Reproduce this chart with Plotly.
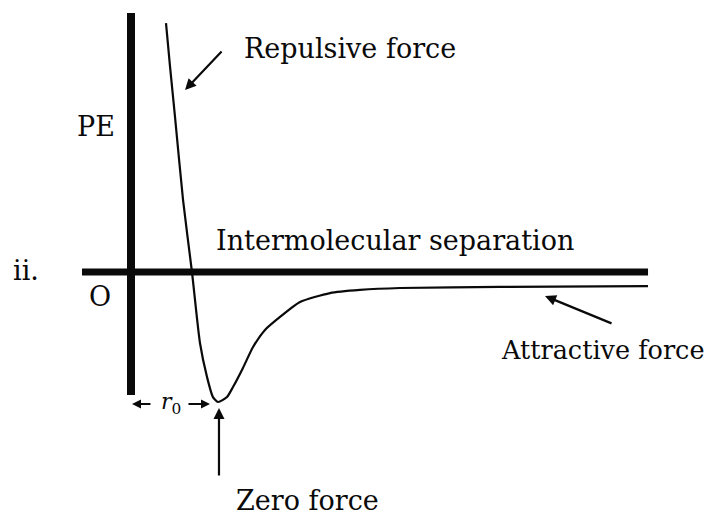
import plotly.graph_objects as go

# Potential-energy curve (x in units of r0, y in units of well depth)
r_sep = [0.407, 0.453, 0.512, 0.605, 0.709, 0.802, 0.884, 0.953, 1.012, 1.116,
         1.186, 1.302, 1.419, 1.558, 1.733, 1.965, 2.314, 2.663, 3.128, 4.291, 6.012]
pe = [1.915, 1.585, 1.192, 0.554, 0.0, -0.546, -0.808, -0.962, -1.0, -0.962,
      -0.885, -0.738, -0.577, -0.446, -0.346, -0.231, -0.162, -0.138, -0.123, -0.115, -0.108]

# Axis extents
x_axis_span = [-0.570, 6.012]
y_axis_span = [-0.946, 1.992]

labels = {
    "repulsive": "Repulsive force",
    "attractive": "Attractive force",
    "zero": "Zero force",
    "sep": "Intermolecular separation",
    "pe": "PE",
    "origin": "O",
    "part": "ii.",
}

FONT = "DejaVu Serif"
INK = "#0a0a0a"

fig = go.Figure()

# Axes
fig.add_trace(go.Scatter(x=x_axis_span, y=[0, 0], mode="lines",
                         line=dict(color=INK, width=7), hoverinfo="skip"))
fig.add_trace(go.Scatter(x=[0, 0], y=y_axis_span, mode="lines",
                         line=dict(color=INK, width=8), hoverinfo="skip"))
# Curve
fig.add_trace(go.Scatter(x=r_sep, y=pe, mode="lines",
                         line=dict(color=INK, width=2.2, shape="spline", smoothing=0.6),
                         hoverinfo="skip"))

def arrow(hx, hy, tx, ty, w=2.2, size=1.0):
    fig.add_annotation(x=hx, y=hy, ax=tx, ay=ty, xref="x", yref="y",
                       axref="x", ayref="y", text="", showarrow=True,
                       arrowhead=2, arrowsize=size, arrowwidth=w, arrowcolor=INK)

arrow(0.628, 1.40, 1.07, 1.708)        # repulsive
arrow(4.814, -0.185, 5.605, -0.40)     # attractive
arrow(1.023, -1.046, 1.023, -1.577)    # zero force
arrow(0.012, -1.015, 0.244, -1.015, w=2, size=0.9)    # r0 left
arrow(0.919, -1.015, 0.651, -1.015, w=2, size=0.9)    # r0 right

def label(txt, x, y, size=27, anchor="center"):
    fig.add_annotation(x=x, y=y, xref="x", yref="y", text=txt, showarrow=False,
                       font=dict(family=FONT, size=size, color=INK),
                       xanchor=anchor, yanchor="middle")

label(labels["repulsive"], 2.547, 1.723)
label(labels["pe"], -0.407, 1.123)
label(labels["part"], -1.221, 0.015)
label(labels["origin"], -0.36, -0.185)
label(labels["sep"], 3.07, 0.246)
label(labels["attractive"], 6.70, -0.600, size=25.5, anchor="right")
label(labels["zero"], 2.047, -1.754)
label("<i>r</i><sub>0</sub>", 0.465, -1.015, size=22)

# The page places the figure 8 px in from the top-left corner; ranges are set
# so that the drawing lands where the reference has it.
fig.update_layout(
    width=704, height=507,
    margin=dict(l=0, r=0, t=0, b=0),
    paper_bgcolor="white", plot_bgcolor="white",
    showlegend=False,
    xaxis=dict(range=[-1.4302, 6.7558], visible=False, fixedrange=True),
    yaxis=dict(range=[-1.8692, 2.0308], visible=False, fixedrange=True),
)

fig.write_html("out.html")
